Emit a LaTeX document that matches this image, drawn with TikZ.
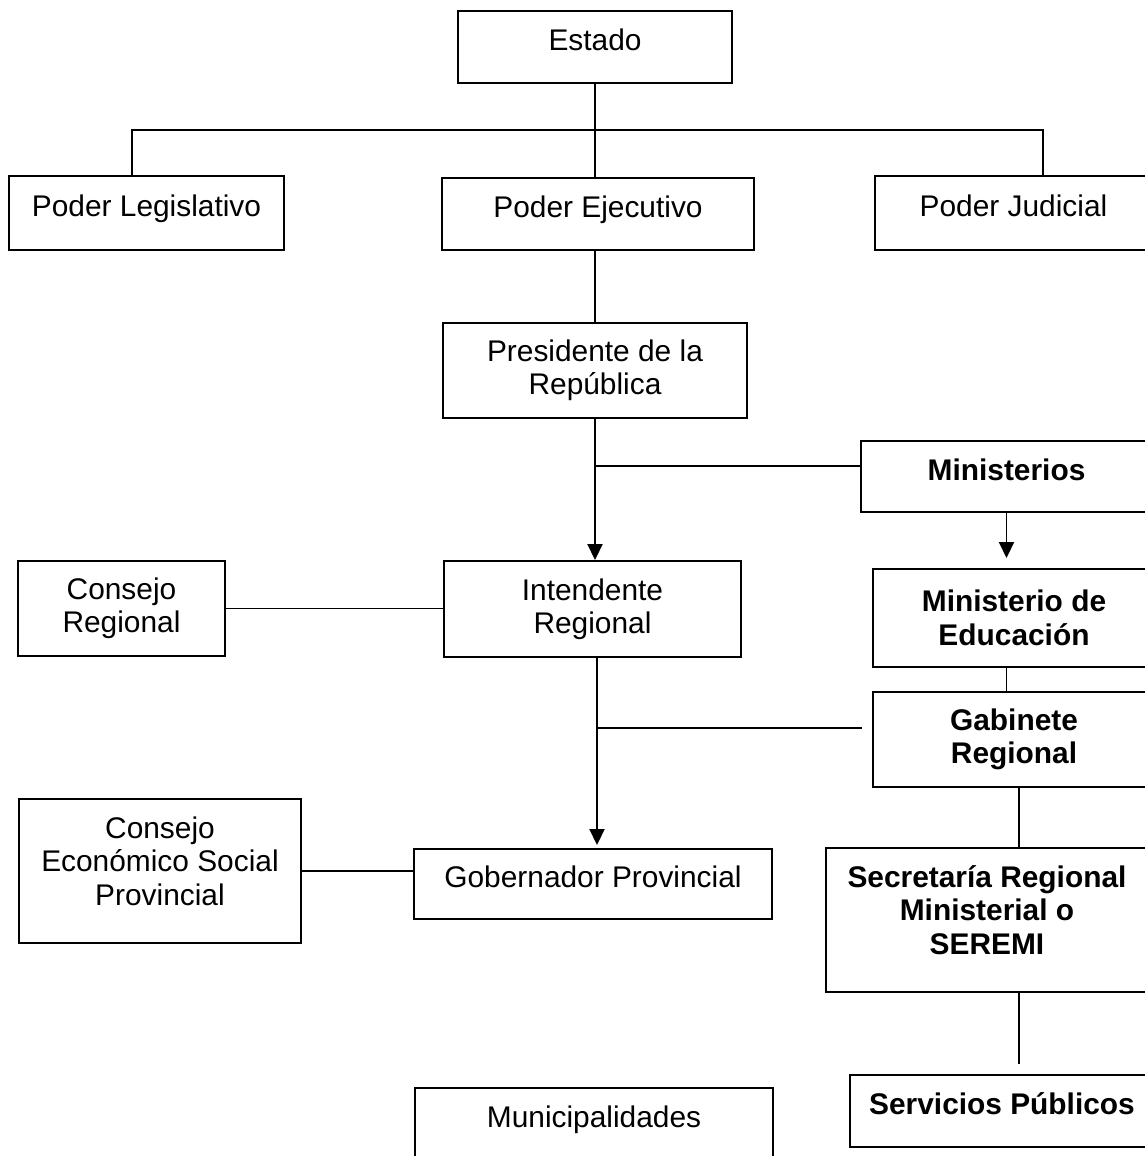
\documentclass[tikz,border=0pt]{standalone}
\usepackage{fontspec}
\setmainfont{Liberation Sans}
\usetikzlibrary{positioning, arrows.meta}

\tikzset{
  caja/.style={draw, line width=1.1pt, align=center, inner sep=2pt,
    font=\fontsize{17}{19}\selectfont},
  negrita/.style={caja, font=\fontsize{17}{19}\selectfont\bfseries},
  unalinea/.style={text height=0.5cm, text depth=0.35cm},
  alto/.style={execute at end node={\rule[-0.4cm]{0pt}{0pt}}},
  linea/.style={line width=1.1pt},
  flecha/.style={linea, -{Triangle[width=0.3cm,length=0.32cm]}},
}

\begin{document}
\begin{tikzpicture}[line cap=butt, line join=miter]
        \useasboundingbox (0,0) rectangle (22.9,-23.12);
        \clip (0,0) rectangle (22.9,-23.12);

        % the state and its three powers
        \node[caja, unalinea, minimum width=5.48cm, minimum height=1.44cm] (estado) at (11.9,-0.94) {Estado};
        \node[caja, unalinea, minimum width=5.5cm, minimum height=1.48cm] (legis) at (2.93,-4.26) {Poder Legislativo};
        \node[caja, unalinea, minimum width=6.24cm, minimum height=1.44cm] (ejec) at (11.96,-4.28) {Poder Ejecutivo};
        \node[caja, unalinea, minimum width=5.54cm, minimum height=1.48cm] (judic) at (20.27,-4.26) {Poder Judicial};

        % executive branch
        \node[caja, minimum width=6.08cm, minimum height=1.9cm] (pres) at (11.9,-7.41) {Presidente de la\\República};
        \node[negrita, unalinea, minimum width=5.82cm, minimum height=1.42cm] (minist) at (20.13,-9.53) {Ministerios};
        \node[negrita, minimum width=5.64cm, minimum height=1.96cm] (mineduc) at (20.28,-12.36) {Ministerio de\\Educación};
        \node[negrita, minimum width=5.64cm, minimum height=1.9cm] (gabin) at (20.28,-14.79) {Gabinete\\Regional};

        % regional level
        \node[caja, minimum width=4.14cm, minimum height=1.9cm] (consreg) at (2.43,-12.17) {Consejo\\Regional};
        \node[caja, minimum width=5.94cm, minimum height=1.92cm] (intend) at (11.85,-12.18) {Intendente\\Regional};

        % provincial level
        \node[caja, alto, minimum width=5.64cm, minimum height=2.88cm] (cesp) at (3.2,-17.42) {Consejo\\Económico Social\\Provincial};
        \node[caja, unalinea, minimum width=7.16cm, minimum height=1.4cm] (gober) at (11.86,-17.68) {Gobernador Provincial};
        \node[negrita, alto, minimum width=6.44cm, minimum height=2.88cm] (seremi) at (19.74,-18.4) {Secretaría Regional\\Ministerial o\\SEREMI};

        % bottom row
        \node[negrita, unalinea, minimum width=6.08cm, minimum height=1.44cm] (servic) at (20.04,-22.22) {Servicios Públicos};
        \node[caja, unalinea, minimum width=7.16cm, minimum height=1.44cm] (munic) at (11.88,-22.48) {Municipalidades};

        % helper points
        \coordinate (bus) at (11.9,-2.6);
        \coordinate (ramaMin) at (11.9,-9.32);
        \coordinate (ejeInt) at (11.94,-13.14);
        \coordinate (ramaGab) at (11.94,-14.56);
        \coordinate (ejeSer) at (20.38,0);

        % connectors
        \draw[linea] (estado.south) -- (bus);
        \draw[linea] (bus) -- (bus |- ejec.north);
        \draw[linea] ([xshift=-0.29cm]legis.north) |- (bus) -| ([xshift=0.59cm]judic.north);
        \draw[linea] (ejec.south -| pres.north) -- (pres.north);
        \draw[flecha] (pres.south) -- (pres.south |- intend.north);
        \draw[linea] (ramaMin) -- (ramaMin -| minist.west);
        \draw[flecha, shorten >=0.2cm] (minist.south) -- (minist.south |- mineduc.north);
        \draw[linea] (minist.south |- mineduc.south) -- (minist.south |- gabin.north);
        \draw[linea] (consreg.east) -- (consreg.east -| intend.west);
        \draw[flecha, shorten >=0.06cm] (ejeInt) -- (ejeInt |- gober.north);
        \draw[linea, shorten >=0.2cm] (ramaGab) -- (ramaGab -| gabin.west);
        \draw[linea] (cesp.east) -- (cesp.east -| gober.west);
        \draw[linea] (ejeSer |- gabin.south) -- (ejeSer |- seremi.north);
        \draw[linea, shorten >=0.2cm] (ejeSer |- seremi.south) -- (ejeSer |- servic.north);
    \end{tikzpicture}
\end{document}
